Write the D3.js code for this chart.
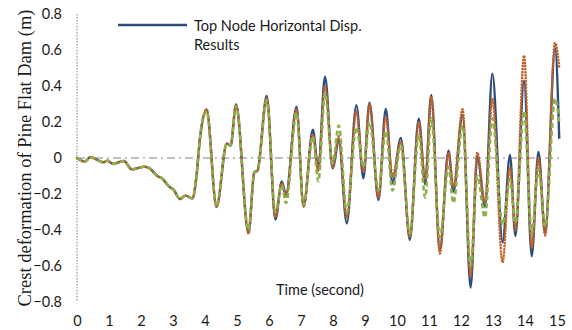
<!DOCTYPE html>
<html lang="en">
<head>
<meta charset="utf-8">
<title>Pine Flat Dam crest deformation</title>
<script src="https://cdn.jsdelivr.net/npm/d3@7"></script>
<style>
  body { margin: 0; background: #fff; }
  svg text { font-family: Lato, "Liberation Sans", sans-serif; fill: #1a1a1a; }
</style>
</head>
<body>
<script>
// key points (time in s, displacement in m)
var times = [0, 0.25, 0.41, 0.6, 0.82, 0.95, 1.13, 1.29, 1.47, 1.71, 1.99, 2.09, 2.28, 2.51, 2.65, 2.91, 3.01, 3.22, 3.38, 3.61, 3.72, 3.85,
  4.05, 4.36, 4.68, 4.8, 4.97, 5.36, 5.54, 5.64, 5.93, 6.2, 6.4, 6.53, 6.86, 7.08, 7.37, 7.54, 7.75, 7.99, 8.18, 8.43, 8.73, 8.95,
  9.14, 9.42, 9.65, 9.86, 10.12, 10.4, 10.68, 10.88, 11.07, 11.34, 11.61, 11.76, 12.05, 12.3, 12.51, 12.75, 12.98, 13.3, 13.53,
  13.7, 13.97, 14.21, 14.42, 14.63, 14.94, 15.07];

var blueDisp = [0, -0.02, 0.005, -0.007, -0.024, -0.015, -0.033, -0.024, -0.017, -0.063, -0.052, -0.048, -0.059, -0.1, -0.113, -0.163, -0.174, -0.228, -0.209, -0.224, -0.122, 0.12,
  0.27, -0.272, 0.08, 0.068, 0.297, -0.416, -0.08, -0.07, 0.345, -0.342, -0.13, -0.205, 0.285, -0.27, 0.157, -0.065, 0.452, -0.057, 0.1, -0.363, 0.294, -0.113,
  0.307, -0.233, 0.273, -0.141, 0.112, -0.454, 0.218, -0.145, 0.35, -0.51, 0.04, -0.188, 0.239, -0.72, 0.012, -0.27, 0.468, -0.468, 0.017,
  -0.433, 0.43, -0.546, 0.033, -0.419, 0.61, 0.107];

var redDisp = [0, -0.02, 0.005, -0.007, -0.024, -0.015, -0.033, -0.024, -0.017, -0.063, -0.052, -0.048, -0.059, -0.1, -0.113, -0.163, -0.174, -0.228, -0.209, -0.224, -0.122, 0.12,
  0.27, -0.27, 0.08, 0.07, 0.295, -0.42, -0.08, -0.07, 0.33, -0.33, -0.14, -0.22, 0.27, -0.27, 0.13, -0.07, 0.40, -0.05, 0.12, -0.33, 0.26, -0.08,
  0.30, -0.22, 0.23, -0.1, 0.09, -0.44, 0.2, -0.12, 0.34, -0.53, 0.03, -0.16, 0.27, -0.66, 0.03, -0.25, 0.33, -0.58, -0.05,
  -0.40, 0.57, -0.50, 0.0, -0.43, 0.64, 0.5];

var greenDisp = [0, -0.02, 0.005, -0.007, -0.024, -0.015, -0.033, -0.024, -0.017, -0.063, -0.052, -0.048, -0.059, -0.1, -0.113, -0.163, -0.174, -0.228, -0.209, -0.224, -0.122, 0.12,
  0.26, -0.27, 0.08, 0.07, 0.29, -0.40, -0.08, -0.065, 0.32, -0.30, -0.15, -0.25, 0.25, -0.26, 0.12, -0.13, 0.36, -0.03, 0.18, -0.3, 0.17, -0.05,
  0.2, -0.18, 0.15, -0.18, 0.07, -0.42, 0.13, -0.22, 0.22, -0.44, -0.05, -0.25, 0.18, -0.6, -0.1, -0.33, 0.22, -0.37, -0.12,
  -0.36, 0.26, -0.42, -0.06, -0.38, 0.33, 0.2];

var xTicks = d3.range(0, 16, 1);
var yTicks = [-0.8, -0.6, -0.4, -0.2, 0, 0.2, 0.4, 0.6, 0.8];
var legendLabel = ["Top Node Horizontal Disp.", "Results"];

var W = 572, H = 330;
var svg = d3.select("body").append("svg")
  .attr("width", W)
  .attr("height", H);

var x = d3.scaleLinear().domain([0, 15]).range([77, 557]);
var y = d3.scaleLinear().domain([-0.8, 0.8]).range([302, 14]);

// y tick labels
var yAxis = d3.axisLeft(y).tickValues(yTicks).tickSize(0).tickPadding(0)
  .tickFormat(function(d) { return d === 0 ? "0" : d3.format(".1f")(d); });
svg.append("g")
  .attr("class", "y axis")
  .attr("transform", "translate(62,0)")
  .call(yAxis)
  .call(function(g) { g.select(".domain").remove(); })
  .selectAll("text")
  .attr("font-size", "14.5px")
  .attr("font-family", "Lato, 'Liberation Sans', sans-serif")
  .attr("fill", "#1a1a1a");

// x tick labels
var xAxis = d3.axisBottom(x).tickValues(xTicks).tickSize(0).tickPadding(0)
  .tickFormat(d3.format("d"));
svg.append("g")
  .attr("class", "x axis")
  .attr("transform", "translate(0,316)")
  .call(xAxis)
  .call(function(g) { g.select(".domain").remove(); })
  .selectAll("text")
  .attr("font-size", "14.5px")
  .attr("font-family", "Lato, 'Liberation Sans', sans-serif")
  .attr("fill", "#1a1a1a");

// dotted vertical axis line
svg.append("line")
  .attr("x1", x(0)).attr("x2", x(0))
  .attr("y1", y(0.8)).attr("y2", y(-0.8))
  .attr("stroke", "#a6a6a6")
  .attr("stroke-width", 1.5)
  .attr("stroke-dasharray", "1.5,1.5");

// dash-dot zero line
svg.append("line")
  .attr("x1", x(0)).attr("x2", x(15.1))
  .attr("y1", y(0)).attr("y2", y(0))
  .attr("stroke", "#a9a9b4")
  .attr("stroke-width", 1.6)
  .attr("stroke-dasharray", "8,4,2,4");

var line = function(vals) {
  return d3.line()
    .x(function(d, i) { return x(times[i]); })
    .y(function(d) { return y(d); })
    .curve(d3.curveMonotoneX)(vals);
};

svg.append("path")
  .attr("d", line(blueDisp))
  .attr("fill", "none")
  .attr("stroke", "#2c4d7b")
  .attr("stroke-width", 2.4);

svg.append("path")
  .attr("d", line(redDisp))
  .attr("fill", "none")
  .attr("stroke", "#c0622a")
  .attr("stroke-width", 2.6)
  .attr("stroke-linecap", "round")
  .attr("stroke-dasharray", "0.1,3");

svg.append("path")
  .attr("d", line(greenDisp))
  .attr("fill", "none")
  .attr("stroke", "#8db04a")
  .attr("stroke-width", 2.6)
  .attr("stroke-dasharray", "5,3");

// legend
svg.append("line")
  .attr("x1", 118).attr("x2", 187)
  .attr("y1", 25).attr("y2", 25)
  .attr("stroke", "#2c4d7b")
  .attr("stroke-width", 2.4);

svg.selectAll(".legtext")
  .data(legendLabel)
  .enter()
  .append("text")
  .attr("class", "legtext")
  .attr("x", 194)
  .attr("y", function(d, i) { return 31 + i * 19; })
  .attr("font-size", "14.5px")
  .text(function(d) { return d; });

// axis titles
svg.append("text")
  .attr("x", 320)
  .attr("y", 295)
  .attr("text-anchor", "middle")
  .attr("font-size", "14.5px")
  .text("Time (second)");

svg.append("text")
  .attr("transform", "translate(31,158) rotate(-90)")
  .attr("text-anchor", "middle")
  .style("font-family", "'Liberation Serif', 'Times New Roman', serif")
  .attr("font-size", "18.5px")
  .text("Crest deformation of Pine Flat Dam (m)");
</script>
</body>
</html>
